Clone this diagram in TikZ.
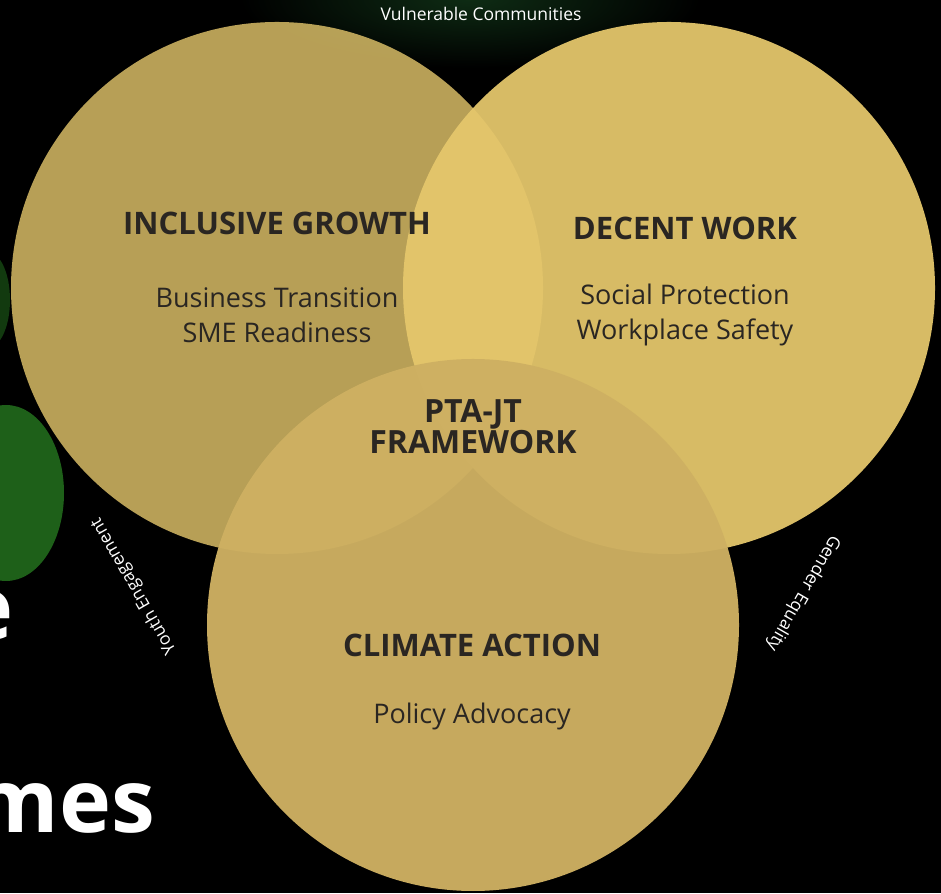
\documentclass[tikz,border=0pt]{standalone}
\usepackage{fontspec}
\setmainfont{Open Sans}
\usetikzlibrary{positioning}
\definecolor{gold}{RGB}{229,199,108}
\definecolor{sand}{RGB}{206,176,98}
\definecolor{ink}{RGB}{42,38,34}
\definecolor{moss}{RGB}{14,44,20}
\definecolor{leaf}{RGB}{30,96,25}

\begin{document}
\begin{tikzpicture}[x=1pt, y=1pt,
  theme/.style={circle, minimum size=532pt, inner sep=0pt},
  head/.style={font=\bfseries\fontsize{31}{31}\selectfont, text=ink, align=center},
  item/.style={font=\fontsize{27}{35}\selectfont, text=ink, align=center},
  big/.style={font=\bfseries\fontsize{88}{90}\selectfont, text=white, inner sep=0pt},
  ring/.style={font=\fontsize{17.5}{20}\selectfont, text=white, inner sep=0pt}]
\useasboundingbox (0,0) rectangle (941,893);
\fill[black] (0,0) rectangle (941,893);
\shade[inner color=moss, outer color=black] (470,895) ellipse [x radius=230, y radius=70];
\fill[leaf!60!black] (-12,593) ellipse [x radius=22, y radius=48];
\fill[leaf] (6,400) ellipse [x radius=58, y radius=88];

\node[big, anchor=base east] (tail1) at (14,253) {e};
\node[big, anchor=base east] (tail2) at (155,60) {mes};

\node[theme, fill=gold, fill opacity=0.8]   (growth)  at (277,605) {};
\node[theme, fill=gold, fill opacity=0.94]  (work)    at (669,605) {};
\node[theme, fill=sand, fill opacity=0.965] (climate) at (473,268) {};

\node[head] (growthhead) at (277,670) {INCLUSIVE GROWTH};
\node[item, below of=growthhead, node distance=92] (growthitems) {Business Transition\\SME Readiness};
\node[head] (workhead) at (685,665) {DECENT WORK};
\node[item, below of=workhead, node distance=87] (workitems) {Social Protection\\Workplace Safety};
\node[head, font=\bfseries\fontsize{32}{31}\selectfont] (core) at (473,466) {PTA-JT\\FRAMEWORK};
\node[head] (climatehead) at (472,248) {CLIMATE ACTION};
\node[item, below of=climatehead, node distance=71] (climateitems) {Policy Advocacy};

\node[ring] (vulnerable) at (481,879) {Vulnerable Communities};
\node[ring, rotate=-120] (gender) at (803,300) {Gender Equality};
\node[ring, rotate=120] (youth) at (134,307) {Youth Engagement};
\end{tikzpicture}
\end{document}
